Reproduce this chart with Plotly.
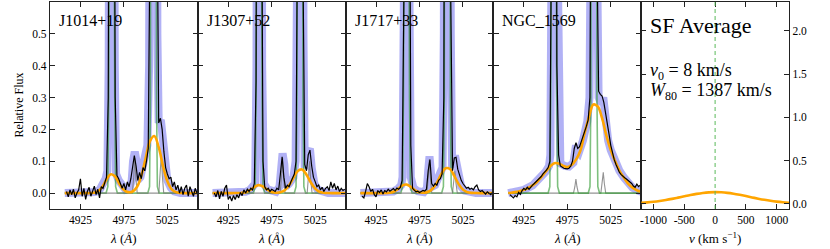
import numpy as np
import plotly.graph_objects as go

# ------------------------------------------------------------------
# Data
# ------------------------------------------------------------------
galaxies = ["J1014+19", "J1307+52", "J1717+33", "NGC_1569"]

# observed spectra, sampled every 2 A starting at 4909 A
WAVE_START = 4909
WAVE_STEP = 2

flux_j1014 = [0.005, -0.012, 0.010, -0.005, 0.012, -0.015, 0.000, 0.010, 0.045, -0.010,
              0.015, -0.020, 0.005, 0.018, -0.010, 0.010, 0.022, -0.005, 0.012, -0.015,
              0.020, 0.015, 0.035, 0.050, 0.300, 2.000, 5.000, 2.000, 0.300, 0.055,
              0.045, 0.030, 0.015, 0.030, 0.010, 0.035, 0.020, 0.045, 0.090, 0.118,
              0.085, 0.040, 0.065, 0.045, 0.080, 0.070, 0.100, 0.140, 0.800, 4.000,
              6.000, 3.000, 1.000, 0.220, 0.235, 0.200, 0.130, 0.080, 0.060, 0.045,
              0.050, 0.020, 0.035, 0.010, 0.025, 0.000, 0.020, -0.005, 0.015, 0.025,
              -0.010, 0.020, 0.005, -0.010, 0.015, 0.000]

flux_j1307 = [0.000, -0.012, 0.008, -0.018, 0.005, -0.010, 0.015, 0.025, -0.020, -0.010,
              -0.025, -0.008, -0.020, -0.005, -0.015, 0.002, -0.008, 0.010, 0.000, 0.012,
              0.005, 0.015, 0.010, 0.030, 0.350, 2.500, 5.000, 1.200, 0.100, 0.020,
              0.010, 0.015, 0.005, 0.012, 0.008, 0.005, 0.015, 0.010, 0.060, 0.114,
              0.050, 0.015, 0.025, 0.020, 0.035, 0.046, 0.060, 0.100, 1.000, 5.000,
              5.000, 0.700, 0.090, 0.070, 0.120, 0.135, 0.085, 0.050, 0.036, 0.020,
              0.025, 0.010, 0.018, 0.005, 0.015, 0.020, 0.008, 0.035, 0.015, 0.030,
              0.010, 0.022, 0.005, 0.015, 0.008, 0.012]

flux_j1717 = [-0.010, -0.015, 0.005, 0.030, 0.020, 0.005, 0.012, -0.005, -0.012, 0.008,
              0.002, 0.010, -0.003, 0.008, 0.004, 0.012, 0.006, 0.010, 0.014, 0.008,
              0.016, 0.012, 0.018, 0.040, 0.600, 3.000, 5.000, 1.500, 0.150, 0.015,
              0.008, 0.004, 0.006, 0.002, 0.005, 0.008, 0.006, 0.012, 0.070, 0.105,
              0.030, 0.022, 0.030, 0.025, 0.040, 0.045, 0.060, 0.300, 3.000, 6.000,
              3.000, 0.600, 0.070, 0.110, 0.112, 0.075, 0.055, 0.040, 0.030, 0.022,
              0.015, 0.018, 0.012, 0.015, 0.010, 0.020, 0.025, 0.010, 0.005, 0.008,
              0.002, -0.003, 0.004, 0.000, -0.005, 0.002]

flux_ngc1569 = [-0.005, -0.010, -0.015, -0.008, -0.012, 0.002, -0.004, 0.008, 0.015, 0.010,
                0.018, 0.012, 0.020, 0.025, 0.030, 0.035, 0.040, 0.045, 0.052, 0.060,
                0.065, 0.072, 0.080, 0.100, 0.900, 5.000, 3.000, 0.400, 0.120, 0.085,
                0.080, 0.078, 0.077, 0.076, 0.078, 0.085, 0.100, 0.140, 0.158, 0.140,
                0.145, 0.160, 0.175, 0.190, 0.210, 0.230, 0.300, 1.500, 6.000, 4.000,
                0.800, 0.320, 0.310, 0.305, 0.285, 0.255, 0.220, 0.185, 0.150, 0.125,
                0.105, 0.090, 0.075, 0.065, 0.058, 0.052, 0.048, 0.044, 0.040, 0.036,
                0.030, 0.022, 0.018, 0.028, 0.020, 0.025]

# broad (outflow) component, orange
broad_wave = [4907, 4910, 4915, 4920, 4925, 4930, 4935, 4940, 4945, 4950, 4955, 4960,
              4965, 4970, 4975, 4980, 4985, 4990, 4995, 5000, 5005, 5010, 5015, 5020,
              5025, 5030, 5035, 5040, 5045, 5050, 5055, 5060]
broad_j1014 = [0, 0, 0, 0, 0, 0, 0, 0.001, 0.005, 0.019, 0.043, 0.059,
               0.052, 0.028, 0.010, 0.003, 0.005, 0.019, 0.054, 0.109, 0.163, 0.179, 0.144, 0.085,
               0.037, 0.012, 0.003, 0.0005, 0, 0, 0, 0]
broad_j1307 = [0, 0, 0, 0, 0, 0, 0.0001, 0.0005, 0.0026, 0.0089, 0.0188, 0.025,
               0.0207, 0.0107, 0.0035, 0.0012, 0.0025, 0.0091, 0.0244, 0.048, 0.0695, 0.074, 0.0578, 0.0332,
               0.014, 0.0043, 0.001, 0.0002, 0, 0, 0, 0]
broad_j1717 = [0, 0, 0, 0, 0, 0, 0.0001, 0.0009, 0.0043, 0.0126, 0.0232, 0.0267,
               0.0193, 0.0087, 0.0026, 0.0013, 0.004, 0.0135, 0.0329, 0.0591, 0.078, 0.0757, 0.0539, 0.0282,
               0.0108, 0.003, 0.0006, 0.0001, 0, 0, 0, 0]
broad_ngc1569 = [0.000, 0.001, 0.003, 0.006, 0.010, 0.016, 0.024, 0.035, 0.050, 0.067, 0.083, 0.094,
                 0.093, 0.086, 0.082, 0.088, 0.105, 0.133, 0.190, 0.240, 0.278, 0.272, 0.235, 0.180,
                 0.135, 0.100, 0.070, 0.049, 0.030, 0.017, 0.009, 0.004]

# total model, thick blue
total_wave_j1014 = [4907, 4935, 4942, 4947, 4951, 4954, 4956, 4957.5, 4959, 4961, 4963, 4964.5, 4966,
                    4969, 4973, 4977, 4981, 4984, 4985.5, 4987.5, 4989.5, 4991, 4994, 4998, 5002,
                    5004, 5006, 5009, 5012, 5013.5, 5015, 5017.5, 5020, 5022, 5025, 5029, 5033, 5040, 5060]
total_j1014 = [0, 0, 0.003, 0.01, 0.025, 0.045, 0.07, 0.4, 2.0, 6.0, 2.0, 0.4, 0.06,
               0.04, 0.02, 0.01, 0.012, 0.04, 0.10, 0.13, 0.10, 0.04, 0.05, 0.09, 0.15,
               0.4, 3.0, 6.0, 3.0, 0.5, 0.22, 0.23, 0.18, 0.10, 0.04, 0.017, 0.005, 0.0, 0.0]

total_wave_j1307 = [4907, 4935, 4945, 4950, 4954, 4956, 4957.5, 4959.5, 4961, 4962.5, 4964, 4966,
                    4970, 4975, 4980, 4984, 4985.5, 4987.5, 4989.5, 4991, 4995, 5000, 5002.5,
                    5004, 5006, 5008, 5010, 5011.5, 5013, 5015, 5017, 5019, 5021, 5024, 5028, 5033, 5040, 5060]
total_j1307 = [0, 0, 0.004, 0.01, 0.02, 0.03, 0.4, 3, 5, 3, 0.4, 0.03,
               0.012, 0.005, 0.004, 0.02, 0.09, 0.125, 0.09, 0.02, 0.03, 0.05, 0.1,
               0.6, 4, 6, 4, 0.5, 0.08, 0.09, 0.13, 0.14, 0.08, 0.03, 0.01, 0.003, 0, 0]

total_wave_j1717 = [4907, 4935, 4945, 4950, 4954, 4955.5, 4957, 4959, 4960.5, 4962, 4963.5, 4965,
                    4968, 4973, 4980, 4983.5, 4985, 4986.5, 4988, 4989.5, 4993, 4998, 5001.5,
                    5003, 5005, 5007, 5009, 5011, 5012.5, 5014, 5015.8, 5017.5, 5020, 5023, 5027, 5033, 5040, 5060]
total_j1717 = [0, 0, 0.005, 0.013, 0.025, 0.05, 0.6, 3, 5, 3, 0.6, 0.05,
               0.016, 0.006, 0.003, 0.015, 0.07, 0.115, 0.07, 0.02, 0.025, 0.05, 0.08,
               0.5, 3, 6, 3, 0.5, 0.08, 0.1, 0.118, 0.09, 0.04, 0.02, 0.008, 0.002, 0, 0]

total_wave_ngc1569 = [4907, 4915, 4925, 4935, 4945, 4950, 4954, 4955.5, 4957, 4959, 4960.5, 4962,
                      4963.5, 4965, 4967, 4972, 4977, 4982, 4984, 4985, 4986, 4988, 4993, 4998,
                      5000.5, 5002, 5004, 5005.5, 5007, 5009, 5011, 5014, 5016.4, 5018.5, 5022,
                      5025, 5030, 5035, 5040, 5045, 5050, 5055, 5060]
total_ngc1569 = [0, 0.003, 0.01, 0.024, 0.05, 0.067, 0.085, 0.12, 0.8, 4, 6, 4,
                 0.8, 0.12, 0.093, 0.085, 0.083, 0.095, 0.13, 0.15, 0.13, 0.125, 0.165, 0.225,
                 0.3, 0.8, 4, 6, 4, 0.8, 0.3, 0.28, 0.30, 0.225, 0.165,
                 0.135, 0.1, 0.07, 0.049, 0.03, 0.017, 0.009, 0.004]

# narrow [OIII] 4959/5007 components, green
o3_flux = [0, 0, 0.02, 0.3, 1.5, 3, 1.5, 0.3, 0.02, 0,
           0, 0.02, 0.3, 4, 9, 4, 0.3, 0.02, 0, 0]
o3_wave_j1014 = [4907, 4954.5, 4956.5, 4957.5, 4959, 4961, 4963, 4964.5, 4965.5, 4967.5,
                 5002.5, 5004.5, 5005.5, 5007, 5009, 5011, 5012.5, 5013.5, 5015.5, 5060]
o3_wave_j1307 = [4907, 4954, 4956, 4957, 4958.5, 4960.5, 4962.5, 4964, 4965, 4967,
                 5001, 5003, 5004, 5005.5, 5007.5, 5009.5, 5011, 5012, 5014, 5060]
o3_wave_j1717 = [4907, 4953.5, 4955.5, 4956.5, 4958, 4960, 4962, 4963.5, 4964.5, 4966.5,
                 5000.5, 5002.5, 5003.5, 5005, 5007, 5009, 5010.5, 5011.5, 5013.5, 5060]
o3_wave_ngc1569 = [4907, 4952.9, 4954.9, 4955.9, 4957.4, 4959.4, 4961.4, 4962.9, 4963.9, 4965.9,
                   4999.1, 5001.1, 5002.1, 5003.6, 5005.6, 5007.6, 5009.1, 5010.1, 5012.1, 5060]

# other narrow lines, grey
he_wave_j1014 = [4907, 4984.7, 4986.3, 4987.5, 4988.7, 4990.3, 5015.2, 5016.8, 5018, 5019.2, 5020.8, 5060]
he_j1014 = [0, 0, 0.05, 0.11, 0.05, 0, 0, 0.055, 0.12, 0.055, 0, 0]
he_wave_j1307 = [4907, 4984.7, 4986.3, 4987.5, 4988.7, 4990.3, 5015.8, 5017.4, 5018.6, 5019.8, 5021.4, 5060]
he_j1307 = [0, 0, 0.05, 0.11, 0.05, 0, 0, 0.045, 0.10, 0.045, 0, 0]
he_wave_j1717 = [4907, 4983.5, 4985.1, 4986.3, 4987.5, 4989.1, 5012.9, 5014.5, 5015.7, 5016.9, 5018.5, 5060]
he_j1717 = [0, 0, 0.048, 0.105, 0.048, 0, 0, 0.032, 0.07, 0.032, 0, 0]
he_wave_ngc1569 = [4907, 4982.1, 4983.7, 4984.9, 4986.1, 4987.7, 5013.6, 5015.2, 5016.4, 5017.6, 5019.2, 5060]
he_ngc1569 = [0, 0, 0.02, 0.044, 0.02, 0, 0, 0.03, 0.065, 0.03, 0, 0]

# SF average profile (velocity space)
vel_grid = [-1200, -1100, -1000, -900, -800, -700, -600, -500, -400, -300, -200, -100, 0,
            100, 200, 300, 400, 500, 600, 700, 800, 900, 1000, 1100, 1200]
sf_avg_profile = [0.0112, 0.0166, 0.0238, 0.0330, 0.0443, 0.0573, 0.0718, 0.0869, 0.1016,
                  0.1148, 0.1254, 0.1323, 0.1350, 0.1331, 0.1268, 0.1167, 0.1038, 0.0893,
                  0.0742, 0.0596, 0.0462, 0.0347, 0.0251, 0.0176, 0.0119]
v0_kms = 8
w80_kms = 1387
vel_marker = 0

# ticks
wave_ticks = [4925, 4975, 5025]
wave_ticktext = ["4925", "4975", "5025"]
flux_ticks = [0.0, 0.1, 0.2, 0.3, 0.4, 0.5]
flux_ticktext = ["0.0", "0.1", "0.2", "0.3", "0.4", "0.5"]
vel_ticks = [-1000, -500, 0, 500, 1000]
vel_ticktext = ["-1000", "-500", "0", "500", "1000"]
avg_ticks = [0.0, 0.5, 1.0, 1.5, 2.0]
avg_ticktext = ["0.0", "0.5", "1.0", "1.5", "2.0"]

# ------------------------------------------------------------------
BLUE = "rgba(100,100,235,0.5)"
GREEN = "rgba(40,150,40,0.6)"
GREY = "rgba(120,120,120,0.8)"
ORANGE = "#FFA500"
SERIF = "Liberation Serif"

panels = [
    (flux_j1014, broad_j1014, total_wave_j1014, total_j1014, o3_wave_j1014, he_wave_j1014, he_j1014, True),
    (flux_j1307, broad_j1307, total_wave_j1307, total_j1307, o3_wave_j1307, he_wave_j1307, he_j1307, True),
    (flux_j1717, broad_j1717, total_wave_j1717, total_j1717, o3_wave_j1717, he_wave_j1717, he_j1717, True),
    (flux_ngc1569, broad_ngc1569, total_wave_ngc1569, total_ngc1569, o3_wave_ngc1569, he_wave_ngc1569, he_ngc1569, False),
]

fig = go.Figure()


def ax_ids(i):
    return ("x" if i == 0 else f"x{i+1}"), ("y" if i == 0 else f"y{i+1}")


for i, (flux, broad, tw, tot, ow, hw, he, grey_top) in enumerate(panels):
    xa, ya = ax_ids(i)
    wave = WAVE_START + WAVE_STEP * np.arange(len(flux))
    common = dict(xaxis=xa, yaxis=ya, mode="lines", hoverinfo="skip", showlegend=False)
    fig.add_trace(go.Scatter(x=tw, y=tot, line=dict(color=BLUE, width=8), **common))
    g = go.Scatter(x=ow, y=o3_flux, line=dict(color=GREEN, width=1.6), **common)
    h = go.Scatter(x=hw, y=he, line=dict(color=GREY, width=1.1), **common)
    if grey_top:
        fig.add_trace(g)
        fig.add_trace(h)
    else:
        fig.add_trace(h)
        fig.add_trace(g)
    fig.add_trace(go.Scatter(x=broad_wave, y=broad, line=dict(color=ORANGE, width=2.6, shape="spline"), **common))
    fig.add_trace(go.Scatter(x=wave, y=flux, line=dict(color="black", width=1.2), **common))

fig.add_trace(go.Scatter(x=vel_grid, y=sf_avg_profile, xaxis="x5", yaxis="y5", mode="lines",
                         line=dict(color=ORANGE, width=2.6, shape="spline"), hoverinfo="skip", showlegend=False))

axis_common = dict(showline=True, linecolor="#222", linewidth=1.2, mirror="ticks", ticks="inside",
                   ticklen=5, tickwidth=1, tickcolor="#222", showgrid=False, zeroline=False,
                   tickfont=dict(family=SERIF, size=11.5, color="black"), fixedrange=True)

layout = dict(width=830, height=249, margin=dict(l=50, r=41, t=2, b=40),
              paper_bgcolor="white", plot_bgcolor="white", showlegend=False,
              font=dict(family=SERIF, size=11, color="black"))

for i in range(5):
    xkey = "xaxis" if i == 0 else f"xaxis{i+1}"
    ykey = "yaxis" if i == 0 else f"yaxis{i+1}"
    xa, ya = ax_ids(i)
    if i < 4:
        layout[xkey] = dict(domain=[i / 5, (i + 1) / 5], anchor=ya, range=[4890, 5060],
                            tickmode="array", tickvals=wave_ticks, ticktext=wave_ticktext, **axis_common)
        layout[ykey] = dict(domain=[0, 1], anchor=xa, range=[-0.05, 0.6], tickmode="array",
                            tickvals=flux_ticks, ticktext=flux_ticktext,
                            showticklabels=(i == 0), **axis_common)
    else:
        layout[xkey] = dict(domain=[i / 5, 1], anchor=ya, range=[-1200, 1200],
                            tickmode="array", tickvals=vel_ticks, ticktext=vel_ticktext, **axis_common)
        layout[ykey] = dict(domain=[0, 1], anchor=xa, range=[-0.06, 2.335], side="right",
                            tickmode="array", tickvals=avg_ticks, ticktext=avg_ticktext, **axis_common)

fig.update_layout(**layout)

fig.add_shape(type="line", xref="x5", yref="y5 domain", x0=vel_marker, x1=vel_marker, y0=0, y1=1,
              line=dict(color="rgb(90,185,90)", width=1, dash="4px,3px"))

PLOT_W = 739.0
PLOT_H = 207.0
annotations = []
for i, name in enumerate(galaxies):
    annotations.append(dict(text=name, xref="paper", yref="paper", x=(i * PLOT_W / 5 + 7) / PLOT_W,
                            y=(207 - 18) / PLOT_H, xanchor="left", yanchor="middle", showarrow=False,
                            font=dict(family=SERIF, size=16, color="black")))
    annotations.append(dict(text="<i>λ</i> (<i>Å</i>)", xref="paper", yref="paper",
                            x=(i + 0.5) / 5, y=-29 / PLOT_H, xanchor="center", yanchor="middle",
                            showarrow=False, font=dict(family=SERIF, size=13, color="black")))

annotations.append(dict(text="<i>v</i> (km s<sup>−1</sup>)", xref="paper", yref="paper",
                        x=0.9, y=-29 / PLOT_H, xanchor="center", yanchor="middle",
                        showarrow=False, font=dict(family=SERIF, size=13, color="black")))
annotations.append(dict(text="Relative Flux", xref="paper", yref="paper", x=-32 / PLOT_W, y=0.5,
                        textangle=-90, xanchor="center", yanchor="middle", showarrow=False,
                        font=dict(family=SERIF, size=12, color="black")))
annotations.append(dict(text="SF Average", xref="paper", yref="paper", x=(4 * PLOT_W / 5 + 7) / PLOT_W,
                        y=(207 - 23) / PLOT_H, xanchor="left", yanchor="middle", showarrow=False,
                        font=dict(family=SERIF, size=22, color="black")))
annotations.append(dict(text=f"<i>v</i><sub><span style='font-size:12px'>0</span></sub> = {v0_kms} km/s",
                        xref="paper", yref="paper",
                        x=(4 * PLOT_W / 5 + 7) / PLOT_W, y=(207 - 70) / PLOT_H, xanchor="left",
                        yanchor="middle", showarrow=False, font=dict(family=SERIF, size=18, color="black")))
annotations.append(dict(text=f"<i>W</i><sub><span style='font-size:12px'>80</span></sub> = {w80_kms} km/s",
                        xref="paper", yref="paper",
                        x=(4 * PLOT_W / 5 + 7) / PLOT_W, y=(207 - 89) / PLOT_H, xanchor="left",
                        yanchor="middle", showarrow=False, font=dict(family=SERIF, size=18, color="black")))
fig.update_layout(annotations=annotations)

fig.write_html("out.html", config={"displayModeBar": False},
               post_script="document.body.style.margin='0';document.body.style.padding='0';")
